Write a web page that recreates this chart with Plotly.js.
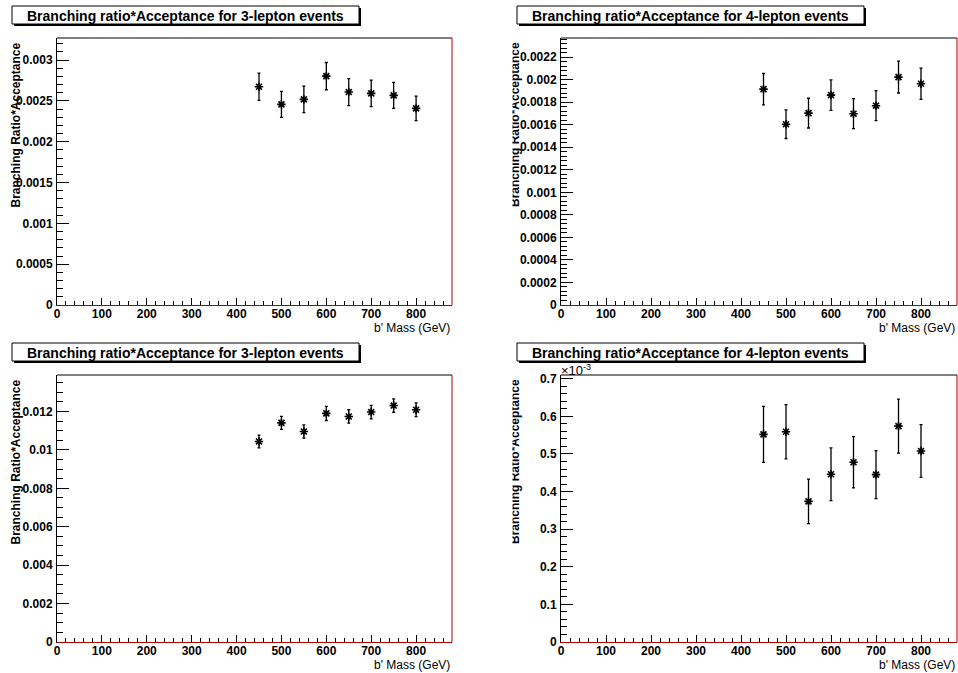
<!DOCTYPE html>
<html>
<head>
<meta charset="utf-8">
<script src="https://cdn.plot.ly/plotly-3.0.1.min.js"></script>
<style>
  html, body { margin: 0; padding: 0; background: #fff; }
  #chart { width: 958px; height: 673px; }
</style>
</head>
<body>
<div id="chart"></div>
<script>
// ---------- data ----------
const masses = [450, 500, 550, 600, 650, 700, 750, 800];

const br3Top = [0.002673, 0.002457, 0.002518, 0.002803, 0.002608, 0.002592, 0.002567, 0.002408];
const err3Top = [0.000167, 0.000160, 0.000163, 0.000167, 0.000165, 0.000163, 0.000159, 0.000150];

const br4Top = [0.001916, 0.001605, 0.001703, 0.001863, 0.001698, 0.001769, 0.002023, 0.001964];
const err4Top = [0.000139, 0.000127, 0.000132, 0.000135, 0.000133, 0.000133, 0.000141, 0.000139];

const br3Bot = [0.01044, 0.01141, 0.01096, 0.01190, 0.01174, 0.01197, 0.01231, 0.01209];
const err3Bot = [0.00033, 0.00034, 0.00034, 0.00037, 0.00035, 0.00035, 0.00035, 0.00036];

const br4Bot = [0.000552, 0.000559, 0.000374, 0.000446, 0.000478, 0.000445, 0.000574, 0.000508];
const err4Bot = [0.0000745, 0.000072, 0.000059, 0.000070, 0.000068, 0.000064, 0.000072, 0.000070];

const xTickVals = [0, 100, 200, 300, 400, 500, 600, 700, 800];
const xTickText = ["0", "100", "200", "300", "400", "500", "600", "700", "800"];

const yTickVals1 = [0, 0.0005, 0.001, 0.0015, 0.002, 0.0025, 0.003];
const yTickText1 = ["0", "0.0005", "0.001", "0.0015", "0.002", "0.0025", "0.003"];
const yTickVals2 = [0, 0.0002, 0.0004, 0.0006, 0.0008, 0.001, 0.0012, 0.0014, 0.0016, 0.0018, 0.002, 0.0022];
const yTickText2 = ["0", "0.0002", "0.0004", "0.0006", "0.0008", "0.001", "0.0012", "0.0014", "0.0016", "0.0018", "0.002", "0.0022"];
const yTickVals3 = [0, 0.002, 0.004, 0.006, 0.008, 0.01, 0.012];
const yTickText3 = ["0", "0.002", "0.004", "0.006", "0.008", "0.01", "0.012"];
const yTickVals4 = [0, 0.0001, 0.0002, 0.0003, 0.0004, 0.0005, 0.0006, 0.0007];
const yTickText4 = ["0", "0.1", "0.2", "0.3", "0.4", "0.5", "0.6", "0.7"];

const titles = [
  "Branching ratio*Acceptance for 3-lepton events",
  "Branching ratio*Acceptance for 4-lepton events",
  "Branching ratio*Acceptance for 3-lepton events",
  "Branching ratio*Acceptance for 4-lepton events"
];
const yTitle = "Branching Ratio*Acceptance";
const xTitle = "b' Mass (GeV)";

// ---------- geometry helpers ----------
const W = 958, H = 673;
const px = x => x / W;
const py = y => 1 - y / H;

// frames in pixels: [left, right, top, bottom]
const frames = [
  [57, 452, 38, 305],
  [561, 957, 38, 305],
  [57, 452, 375, 642],
  [561, 957, 375, 642]
];
const yRanges = [[0, 0.00327], [0, 0.00237], [0, 0.0139], [0, 0.00071]];
const yMinor = [0.0001, 0.00004, 0.0005, 0.00002];
const yTV = [yTickVals1, yTickVals2, yTickVals3, yTickVals4];
const yTT = [yTickText1, yTickText2, yTickText3, yTickText4];
const ys = [br3Top, br4Top, br3Bot, br4Bot];
const es = [err3Top, err4Top, err3Bot, err4Bot];
const titleBoxes = [
  [12, 359, 6, 24],
  [517, 864, 6, 24],
  [12, 359, 343, 361],
  [517, 864, 343, 361]
];

const FONT = "Liberation Sans, Arial, Helvetica, sans-serif";
const RED = "#b00000";

const traces = [];
const layout = {
  width: W, height: H,
  margin: { l: 0, r: 0, t: 0, b: 0 },
  paper_bgcolor: "#fff", plot_bgcolor: "#fff",
  showlegend: false,
  font: { family: FONT, color: "#000" },
  shapes: [], annotations: []
};
const clipIdx = [];

for (let i = 0; i < 4; i++) {
  const n = i === 0 ? "" : String(i + 1);
  const [l, r, t, b] = frames[i];
  traces.push({
    type: "scatter", mode: "markers",
    x: masses, y: ys[i],
    xaxis: "x" + n, yaxis: "y" + n,
    marker: { symbol: "asterisk-open", size: 7, color: "#000", line: { color: "#000", width: 1.6 } },
    error_y: { type: "data", array: es[i], visible: true, color: "#000", thickness: 1.3, width: 1.5 },
    cliponaxis: false,
    hoverinfo: "skip"
  });
  layout["xaxis" + n] = {
    domain: [px(l), px(r)], range: [0, 880], anchor: "y" + n,
    tickmode: "array", tickvals: xTickVals, ticktext: xTickText,
    ticks: "inside", ticklen: 7, tickwidth: 1, tickcolor: "#000",
    minor: { tickmode: "linear", tick0: 0, dtick: 20, ticks: "inside", ticklen: 4, tickwidth: 1, tickcolor: "#000", showgrid: false },
    showline: true, linecolor: RED, linewidth: 1, mirror: false,
    showgrid: false, zeroline: false, fixedrange: true,
    tickfont: { family: FONT, size: 12, color: "#000", weight: "bold" },
    ticklabelstandoff: -2
  };
  layout["yaxis" + n] = {
    domain: [py(b), py(t)], range: yRanges[i], anchor: "x" + n,
    tickmode: "array", tickvals: yTV[i], ticktext: yTT[i],
    ticks: "inside", ticklen: 12, tickwidth: 1, tickcolor: "#000",
    minor: { tickmode: "linear", tick0: 0, dtick: yMinor[i], ticks: "inside", ticklen: 6, tickwidth: 1, tickcolor: "#000", showgrid: false },
    showline: true, linecolor: "#000", linewidth: 1, mirror: false,
    showgrid: false, zeroline: false, fixedrange: true,
    tickfont: { family: FONT, size: 12, color: "#000", weight: "bold" },
    ticklabelstandoff: 1
  };
  // frame: top black, right red
  layout.shapes.push({ type: "line", xref: "paper", yref: "paper", x0: px(l), x1: px(r), y0: py(t), y1: py(t), line: { color: "#000", width: 1 }, layer: "above" });
  layout.shapes.push({ type: "line", xref: "paper", yref: "paper", x0: px(r), x1: px(r), y0: py(t), y1: py(b), line: { color: RED, width: 1 }, layer: "above" });

  // title box with shadow
  const [bl, br, bt, bb] = titleBoxes[i];
  layout.shapes.push({ type: "rect", xref: "paper", yref: "paper", x0: px(bl + 2), x1: px(br + 2), y0: py(bb + 2), y1: py(bt + 2), fillcolor: "#000", line: { width: 0 }, layer: "above" });
  layout.shapes.push({ type: "rect", xref: "paper", yref: "paper", x0: px(bl), x1: px(br), y0: py(bb), y1: py(bt), fillcolor: "#fff", line: { color: "#000", width: 1 }, layer: "above" });
  layout.annotations.push({
    xref: "paper", yref: "paper", x: px((bl + br) / 2), y: py((bt + bb) / 2 + 0.5),
    xanchor: "center", yanchor: "middle", showarrow: false,
    text: titles[i], font: { family: FONT, size: 14, color: "#000", weight: "bold" }
  });

  // x axis title
  layout.annotations.push({
    xref: "paper", yref: "paper", x: px(r), y: py(b + 23),
    xanchor: "right", yanchor: "middle", showarrow: false,
    text: xTitle, font: { family: FONT, size: 12, color: "#000" }
  });

  // y axis title
  const yx = (i % 2 === 0) ? 15.5 : 515;
  if (i % 2 === 1) clipIdx.push(layout.annotations.length);
  layout.annotations.push({
    xref: "paper", yref: "paper", x: px(yx), y: py(t + 87),
    xanchor: "center", yanchor: "middle", showarrow: false, textangle: -90,
    text: yTitle, font: { family: FONT, size: 12, color: "#000", weight: "bold" }
  });
}

// exponent label for the last panel
layout.annotations.push({
  xref: "paper", yref: "paper", x: px(559), y: py(370),
  xanchor: "left", yanchor: "middle", showarrow: false,
  text: "\u00d710<sup>-3</sup>", font: { family: FONT, size: 13, color: "#000" }
});

Plotly.newPlot("chart", traces, layout, { staticPlot: true, displayModeBar: false }).then(gd => {
  // clip the right-column y titles at their left edge, as in the original
  const NS = "http://www.w3.org/2000/svg";
  clipIdx.forEach((idx, k) => {
    const el = gd.querySelector('.annotation[data-index="' + idx + '"]');
    if (!el) return;
    const svg = el.ownerSVGElement;
    let defs = svg.querySelector("defs");
    if (!defs) { defs = document.createElementNS(NS, "defs"); svg.insertBefore(defs, svg.firstChild); }
    const cp = document.createElementNS(NS, "clipPath");
    cp.setAttribute("id", "ytclip" + k);
    cp.setAttribute("clipPathUnits", "userSpaceOnUse");
    const rect = document.createElementNS(NS, "rect");
    rect.setAttribute("x", 512.5); rect.setAttribute("y", 38);
    rect.setAttribute("width", 40); rect.setAttribute("height", 640);
    cp.appendChild(rect);
    defs.appendChild(cp);
    el.setAttribute("clip-path", "url(#ytclip" + k + ")");
  });
});
</script>
</body>
</html>
